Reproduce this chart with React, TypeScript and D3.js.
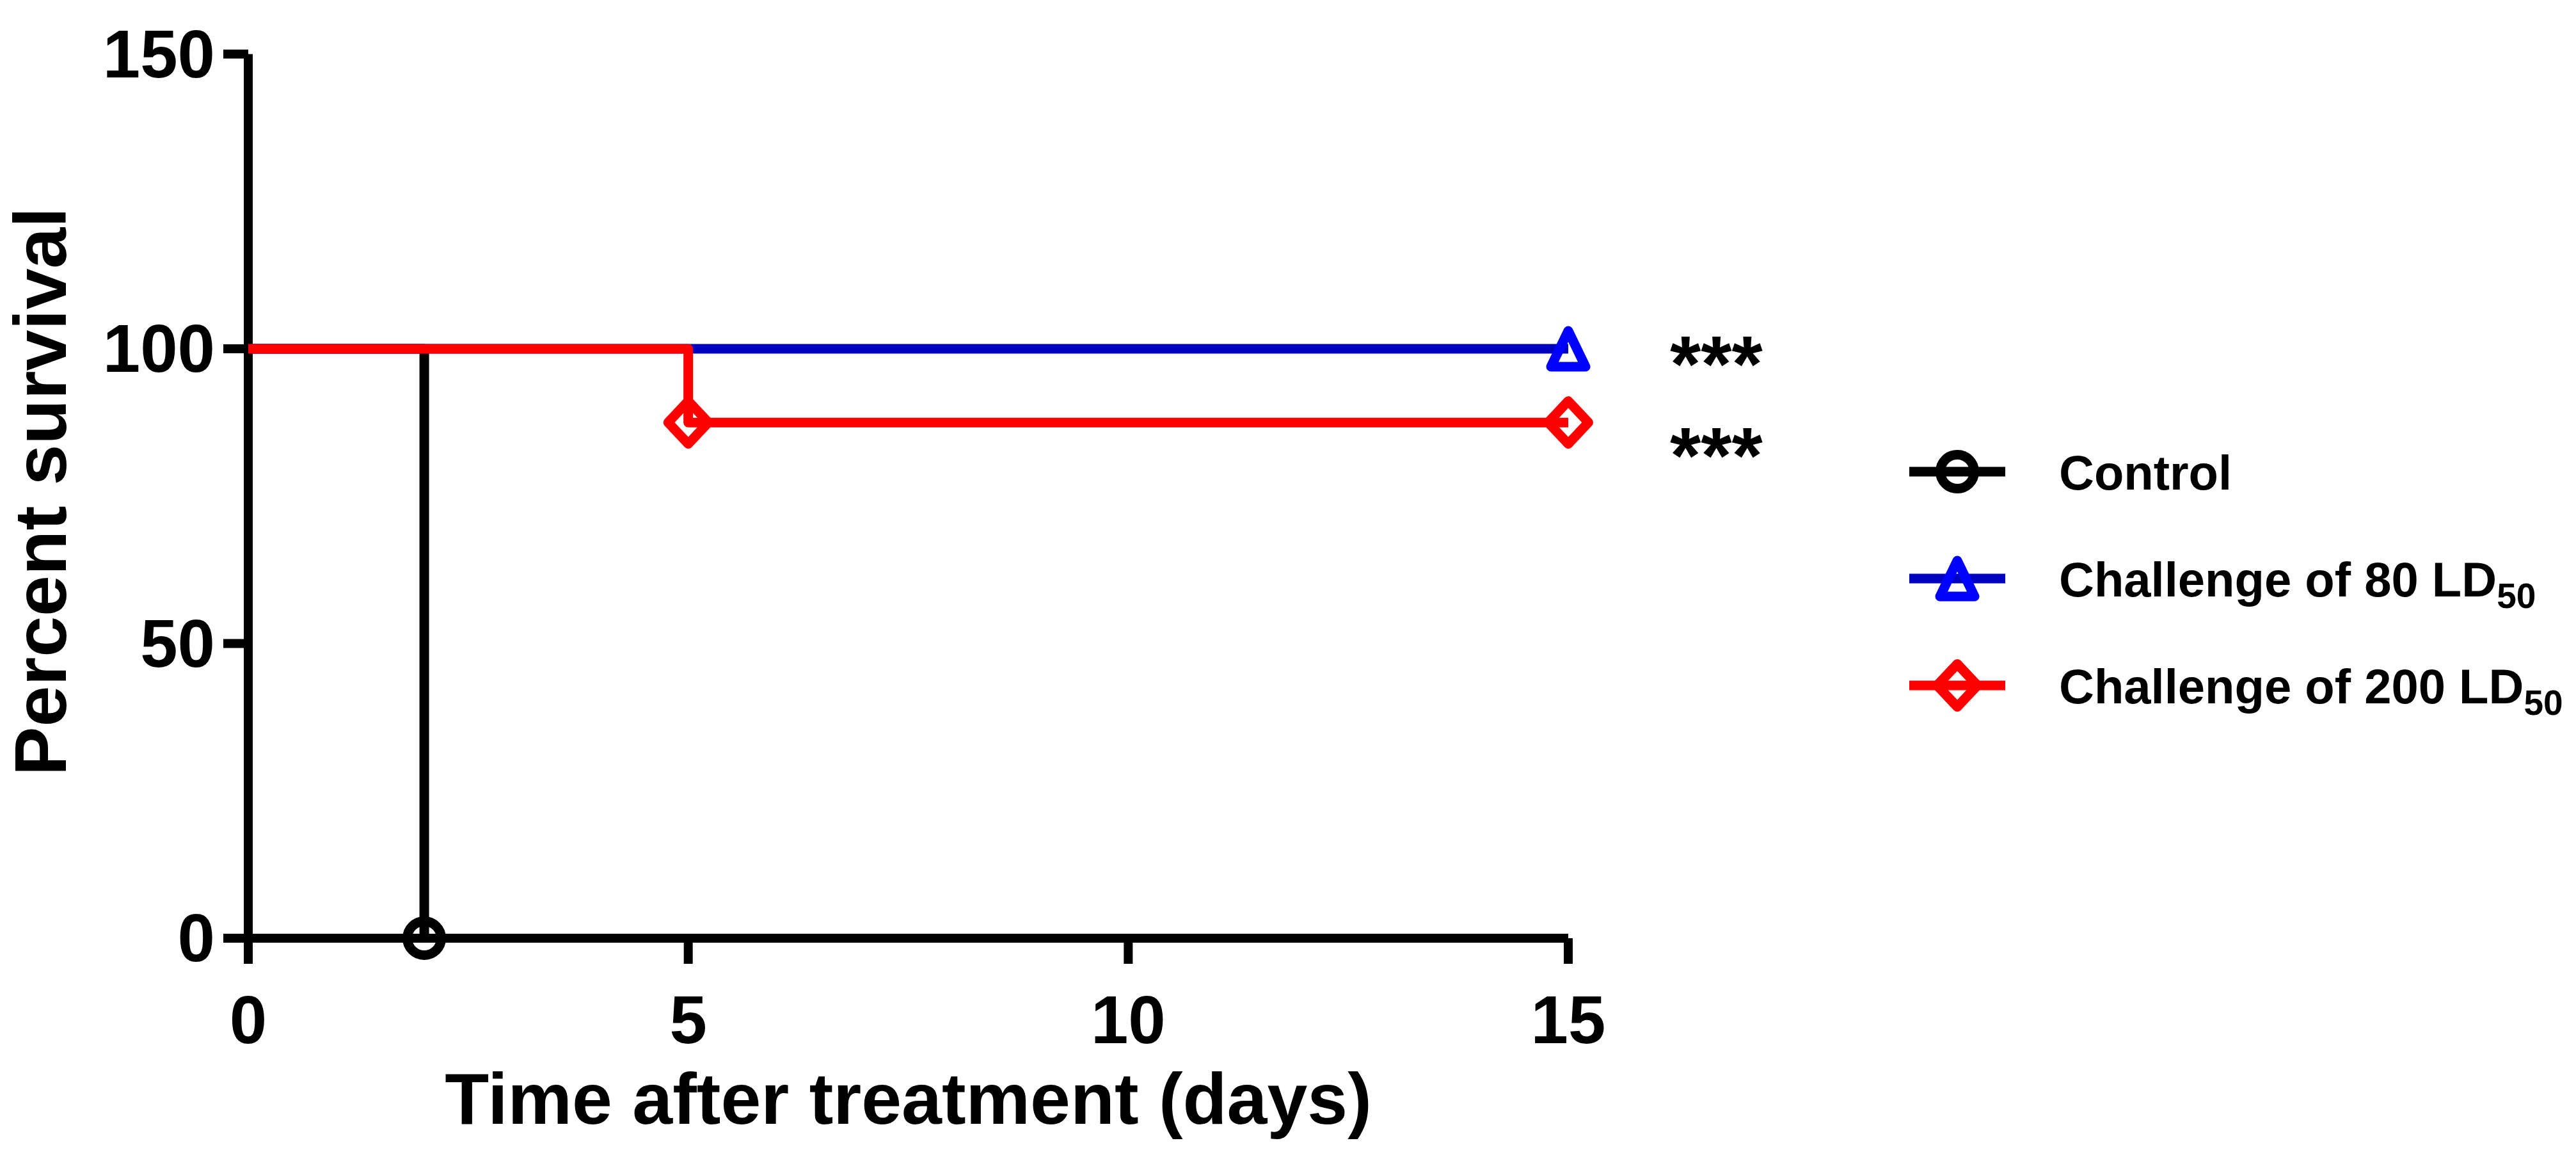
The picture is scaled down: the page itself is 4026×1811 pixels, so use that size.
import React from "react";
import * as d3 from "d3";

// ---- data ----
const xTicks = [0, 5, 10, 15];
const yTicks = [0, 50, 100, 150];

const controlTimes = [0, 2];
const controlSurvival = [100, 0];
const controlMarks = [[2, 0]];

const ch80Times = [0, 15];
const ch80Survival = [100, 100];
const ch80Marks = [[15, 100]];

const ch200Times = [0, 5, 15];
const ch200Survival = [100, 87.5, 87.5];
const ch200Marks = [[5, 87.5], [15, 87.5]];

const legendNames = ["Control", "Challenge of 80 LD", "Challenge of 200 LD"];
const legendSubs = ["", "50", "50"];
const sigLabels = ["***", "***"];
const sigValues = [100, 84.5];

const W = 4026;
const H = 1811;
const FONT = "'Liberation Sans', Arial, Helvetica, sans-serif";

const x = d3.scaleLinear().domain([0, 15]).range([388, 2451]);
const y = d3.scaleLinear().domain([0, 150]).range([1466, 84.5]);

const stepLine = d3
  .line<[number, number]>()
  .x((d) => x(d[0]))
  .y((d) => y(d[1]))
  .curve(d3.curveStepAfter);

const zip = (a: number[], b: number[]) => a.map((v, i) => [v, b[i]] as [number, number]);

function Marker({ kind, cx, cy, color }: { kind: string; cx: number; cy: number; color: string }) {
  const sw = 15;
  if (kind === "circle") {
    return <circle cx={cx} cy={cy} r={26.5} fill="none" stroke={color} strokeWidth={sw} />;
  }
  if (kind === "triangle") {
    const d = `M${cx},${cy - 28}L${cx + 27},${cy + 28}L${cx - 27},${cy + 28}Z`;
    return <path d={d} fill="none" stroke={color} strokeWidth={sw} strokeLinejoin="round" />;
  }
  const d = `M${cx},${cy - 33.5}L${cx + 31.5},${cy}L${cx},${cy + 33.5}L${cx - 31.5},${cy}Z`;
  return <path d={d} fill="none" stroke={color} strokeWidth={sw} strokeLinejoin="round" />;
}

const series = [
  { times: controlTimes, surv: controlSurvival, marks: controlMarks, line: "#000000", mark: "#000000", kind: "circle" },
  { times: ch80Times, surv: ch80Survival, marks: ch80Marks, line: "#0000C0", mark: "#0000FF", kind: "triangle" },
  { times: ch200Times, surv: ch200Survival, marks: ch200Marks, line: "#FF0000", mark: "#FF0000", kind: "diamond" },
];

export default function App() {
  const axisSW = 14;
  const tickEndX = 349;
  const tickEndY = 1506;
  const legendY = [737, 904, 1071];
  return (
    <svg
      width={W}
      height={H}
      viewBox={`0 0 ${W} ${H}`}
      style={{ position: "absolute", left: 0, top: 0, background: "#fff" }}
      fontFamily={FONT}
      fontWeight="bold"
    >
      <rect x={0} y={0} width={W} height={H} fill="#fff" />
      {/* axes */}
      <line x1={x(0)} x2={x(0)} y1={y(150)} y2={tickEndY} stroke="#000" strokeWidth={axisSW} />
      <line x1={tickEndX} x2={x(15)} y1={y(0)} y2={y(0)} stroke="#000" strokeWidth={axisSW} />
      {yTicks.map((t) => (
        <g key={"yt" + t}>
          <line x1={tickEndX} x2={x(0)} y1={y(t)} y2={y(t)} stroke="#000" strokeWidth={axisSW} />
          <text x={336} y={y(t) + 36} fontSize={105} textAnchor="end">
            {t}
          </text>
        </g>
      ))}
      {xTicks.map((t) => (
        <g key={"xt" + t}>
          <line x1={x(t)} x2={x(t)} y1={y(0)} y2={tickEndY} stroke="#000" strokeWidth={axisSW} />
          <text x={x(t)} y={1630} fontSize={105} textAnchor="middle">
            {t}
          </text>
        </g>
      ))}
      <text x={(x(0) + x(15)) / 2} y={1756} fontSize={113} textAnchor="middle">
        Time after treatment (days)
      </text>
      <text transform="translate(103,768) rotate(-90)" fontSize={115} textAnchor="middle">
        Percent survival
      </text>

      {/* survival curves */}
      {series.map((s, i) => (
        <g key={"s" + i}>
          <path d={stepLine(zip(s.times, s.surv)) || ""} fill="none" stroke={s.line} strokeWidth={15} strokeLinejoin="round" />
          {s.marks.map((m, j) => (
            <Marker key={j} kind={s.kind} cx={x(m[0])} cy={y(m[1])} color={s.mark} />
          ))}
        </g>
      ))}

      {/* significance */}
      {sigLabels.map((l, i) => (
        <text key={"sig" + i} x={2610} y={y(sigValues[i]) + 67} fontSize={124}>
          {l}
        </text>
      ))}

      {/* legend */}
      {series.map((s, i) => (
        <g key={"lg" + i}>
          <line x1={2984} x2={3134} y1={legendY[i]} y2={legendY[i]} stroke={s.line} strokeWidth={15} />
          <Marker kind={s.kind} cx={3059} cy={legendY[i]} color={s.mark} />
          <text x={3218} y={legendY[i] + 28} fontSize={76}>
            {legendNames[i]}
            {legendSubs[i] ? (
              <tspan fontSize={55} dy={18}>
                {legendSubs[i]}
              </tspan>
            ) : null}
          </text>
        </g>
      ))}
    </svg>
  );
}
